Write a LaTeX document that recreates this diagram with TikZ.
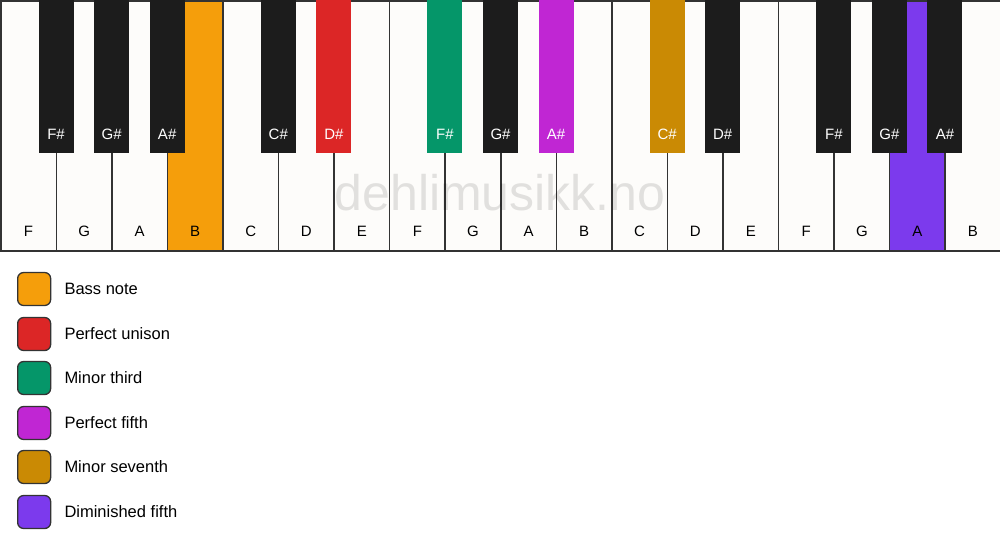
\documentclass[tikz,border=0pt]{standalone}
\usepackage{fontspec}
\setmainfont{Liberation Sans}
\usepackage{tikz}
\usetikzlibrary{positioning}
\definecolor{keywhite}{HTML}{FDFCFA}
\definecolor{keyblack}{HTML}{1C1C1C}
\definecolor{keyline}{HTML}{333333}
\definecolor{bassnote}{HTML}{F59E0B}
\definecolor{unison}{HTML}{DC2626}
\definecolor{minthird}{HTML}{059669}
\definecolor{perffifth}{HTML}{C026D3}
\definecolor{minseventh}{HTML}{CA8A04}
\definecolor{dimfifth}{HTML}{7C3AED}
\tikzset{whitekey/.style={draw=keyline, line width=1.5pt, fill=keywhite, anchor=north west, minimum width=55.56pt, minimum height=250pt, inner sep=0pt}}
\tikzset{blackkey/.style={draw=none, fill=keyblack, anchor=north, minimum width=35pt, minimum height=153pt, inner sep=0pt}}
\tikzset{wlabel/.style={font=\fontsize{15}{15}\selectfont, anchor=base, yshift=15pt, inner sep=0pt}}
\tikzset{blabel/.style={font=\fontsize{15}{15}\selectfont, text=white, anchor=base, yshift=14pt, inner sep=0pt}}
\tikzset{legendbox/.style={draw=keyline, line width=1.3pt, rounded corners=6pt, minimum width=33pt, minimum height=33pt, anchor=west, inner sep=0pt}}
\tikzset{legendtext/.style={font=\fontsize{16.5}{16.5}\selectfont, anchor=west, inner sep=0pt}}

\begin{document}
\begin{tikzpicture}[x=1pt, y=-1pt]
	\useasboundingbox (0,0) rectangle (1000,550);

	% White keys
	\node[whitekey, label={[wlabel]south:F}] (w0) at (0,0) {};
	\node[whitekey, label={[wlabel]south:G}] (w1) at (55.56,0) {};
	\node[whitekey, label={[wlabel]south:A}] (w2) at (111.11,0) {};
	\node[whitekey, fill=bassnote, label={[wlabel]south:B}] (w3) at (166.67,0) {};
	\node[whitekey, label={[wlabel]south:C}] (w4) at (222.22,0) {};
	\node[whitekey, label={[wlabel]south:D}] (w5) at (277.78,0) {};
	\node[whitekey, label={[wlabel]south:E}] (w6) at (333.33,0) {};
	\node[whitekey, label={[wlabel]south:F}] (w7) at (388.89,0) {};
	\node[whitekey, label={[wlabel]south:G}] (w8) at (444.44,0) {};
	\node[whitekey, label={[wlabel]south:A}] (w9) at (500,0) {};
	\node[whitekey, label={[wlabel]south:B}] (w10) at (555.56,0) {};
	\node[whitekey, label={[wlabel]south:C}] (w11) at (611.11,0) {};
	\node[whitekey, label={[wlabel]south:D}] (w12) at (666.67,0) {};
	\node[whitekey, label={[wlabel]south:E}] (w13) at (722.22,0) {};
	\node[whitekey, label={[wlabel]south:F}] (w14) at (777.78,0) {};
	\node[whitekey, label={[wlabel]south:G}] (w15) at (833.33,0) {};
	\node[whitekey, fill=dimfifth, label={[wlabel]south:A}] (w16) at (888.89,0) {};
	\node[whitekey, label={[wlabel]south:B}] (w17) at (944.44,0) {};

	% Black keys
	\node[blackkey, xshift=-1pt, label={[blabel]south:F\#}] (b1) at (w0.north east) {};
	\node[blackkey, xshift=-1pt, label={[blabel]south:G\#}] (b2) at (w1.north east) {};
	\node[blackkey, xshift=-1pt, label={[blabel]south:A\#}] (b3) at (w2.north east) {};
	\node[blackkey, xshift=-1pt, label={[blabel]south:C\#}] (b5) at (w4.north east) {};
	\node[blackkey, xshift=-1pt, fill=unison, label={[blabel]south:D\#}] (b6) at (w5.north east) {};
	\node[blackkey, xshift=-1pt, fill=minthird, label={[blabel]south:F\#}] (b8) at (w7.north east) {};
	\node[blackkey, xshift=-1pt, label={[blabel]south:G\#}] (b9) at (w8.north east) {};
	\node[blackkey, xshift=-1pt, fill=perffifth, label={[blabel]south:A\#}] (b10) at (w9.north east) {};
	\node[blackkey, xshift=-1pt, fill=minseventh, label={[blabel]south:C\#}] (b12) at (w11.north east) {};
	\node[blackkey, xshift=-1pt, label={[blabel]south:D\#}] (b13) at (w12.north east) {};
	\node[blackkey, xshift=-1pt, label={[blabel]south:F\#}] (b15) at (w14.north east) {};
	\node[blackkey, xshift=-1pt, label={[blabel]south:G\#}] (b16) at (w15.north east) {};
	\node[blackkey, xshift=-1pt, label={[blabel]south:A\#}] (b17) at (w16.north east) {};

	% Watermark
	\node[text=black, opacity=0.11, font=\fontsize{50}{50}\selectfont, inner sep=0pt] (mark) at (500,193) {dehlimusikk.no};

	% Legend
	\node[legendbox, fill=bassnote] (l1) at (17,289) {};
	\node[legendtext, right=13pt of l1] (t1) {Bass note};
	\node[legendbox, fill=unison] (l2) at (17,334) {};
	\node[legendtext, right=13pt of l2] (t2) {Perfect unison};
	\node[legendbox, fill=minthird] (l3) at (17,378) {};
	\node[legendtext, right=13pt of l3] (t3) {Minor third};
	\node[legendbox, fill=perffifth] (l4) at (17,423) {};
	\node[legendtext, right=13pt of l4] (t4) {Perfect fifth};
	\node[legendbox, fill=minseventh] (l5) at (17,467) {};
	\node[legendtext, right=13pt of l5] (t5) {Minor seventh};
	\node[legendbox, fill=dimfifth] (l6) at (17,512) {};
	\node[legendtext, right=13pt of l6] (t6) {Diminished fifth};

\end{tikzpicture}
\end{document}
